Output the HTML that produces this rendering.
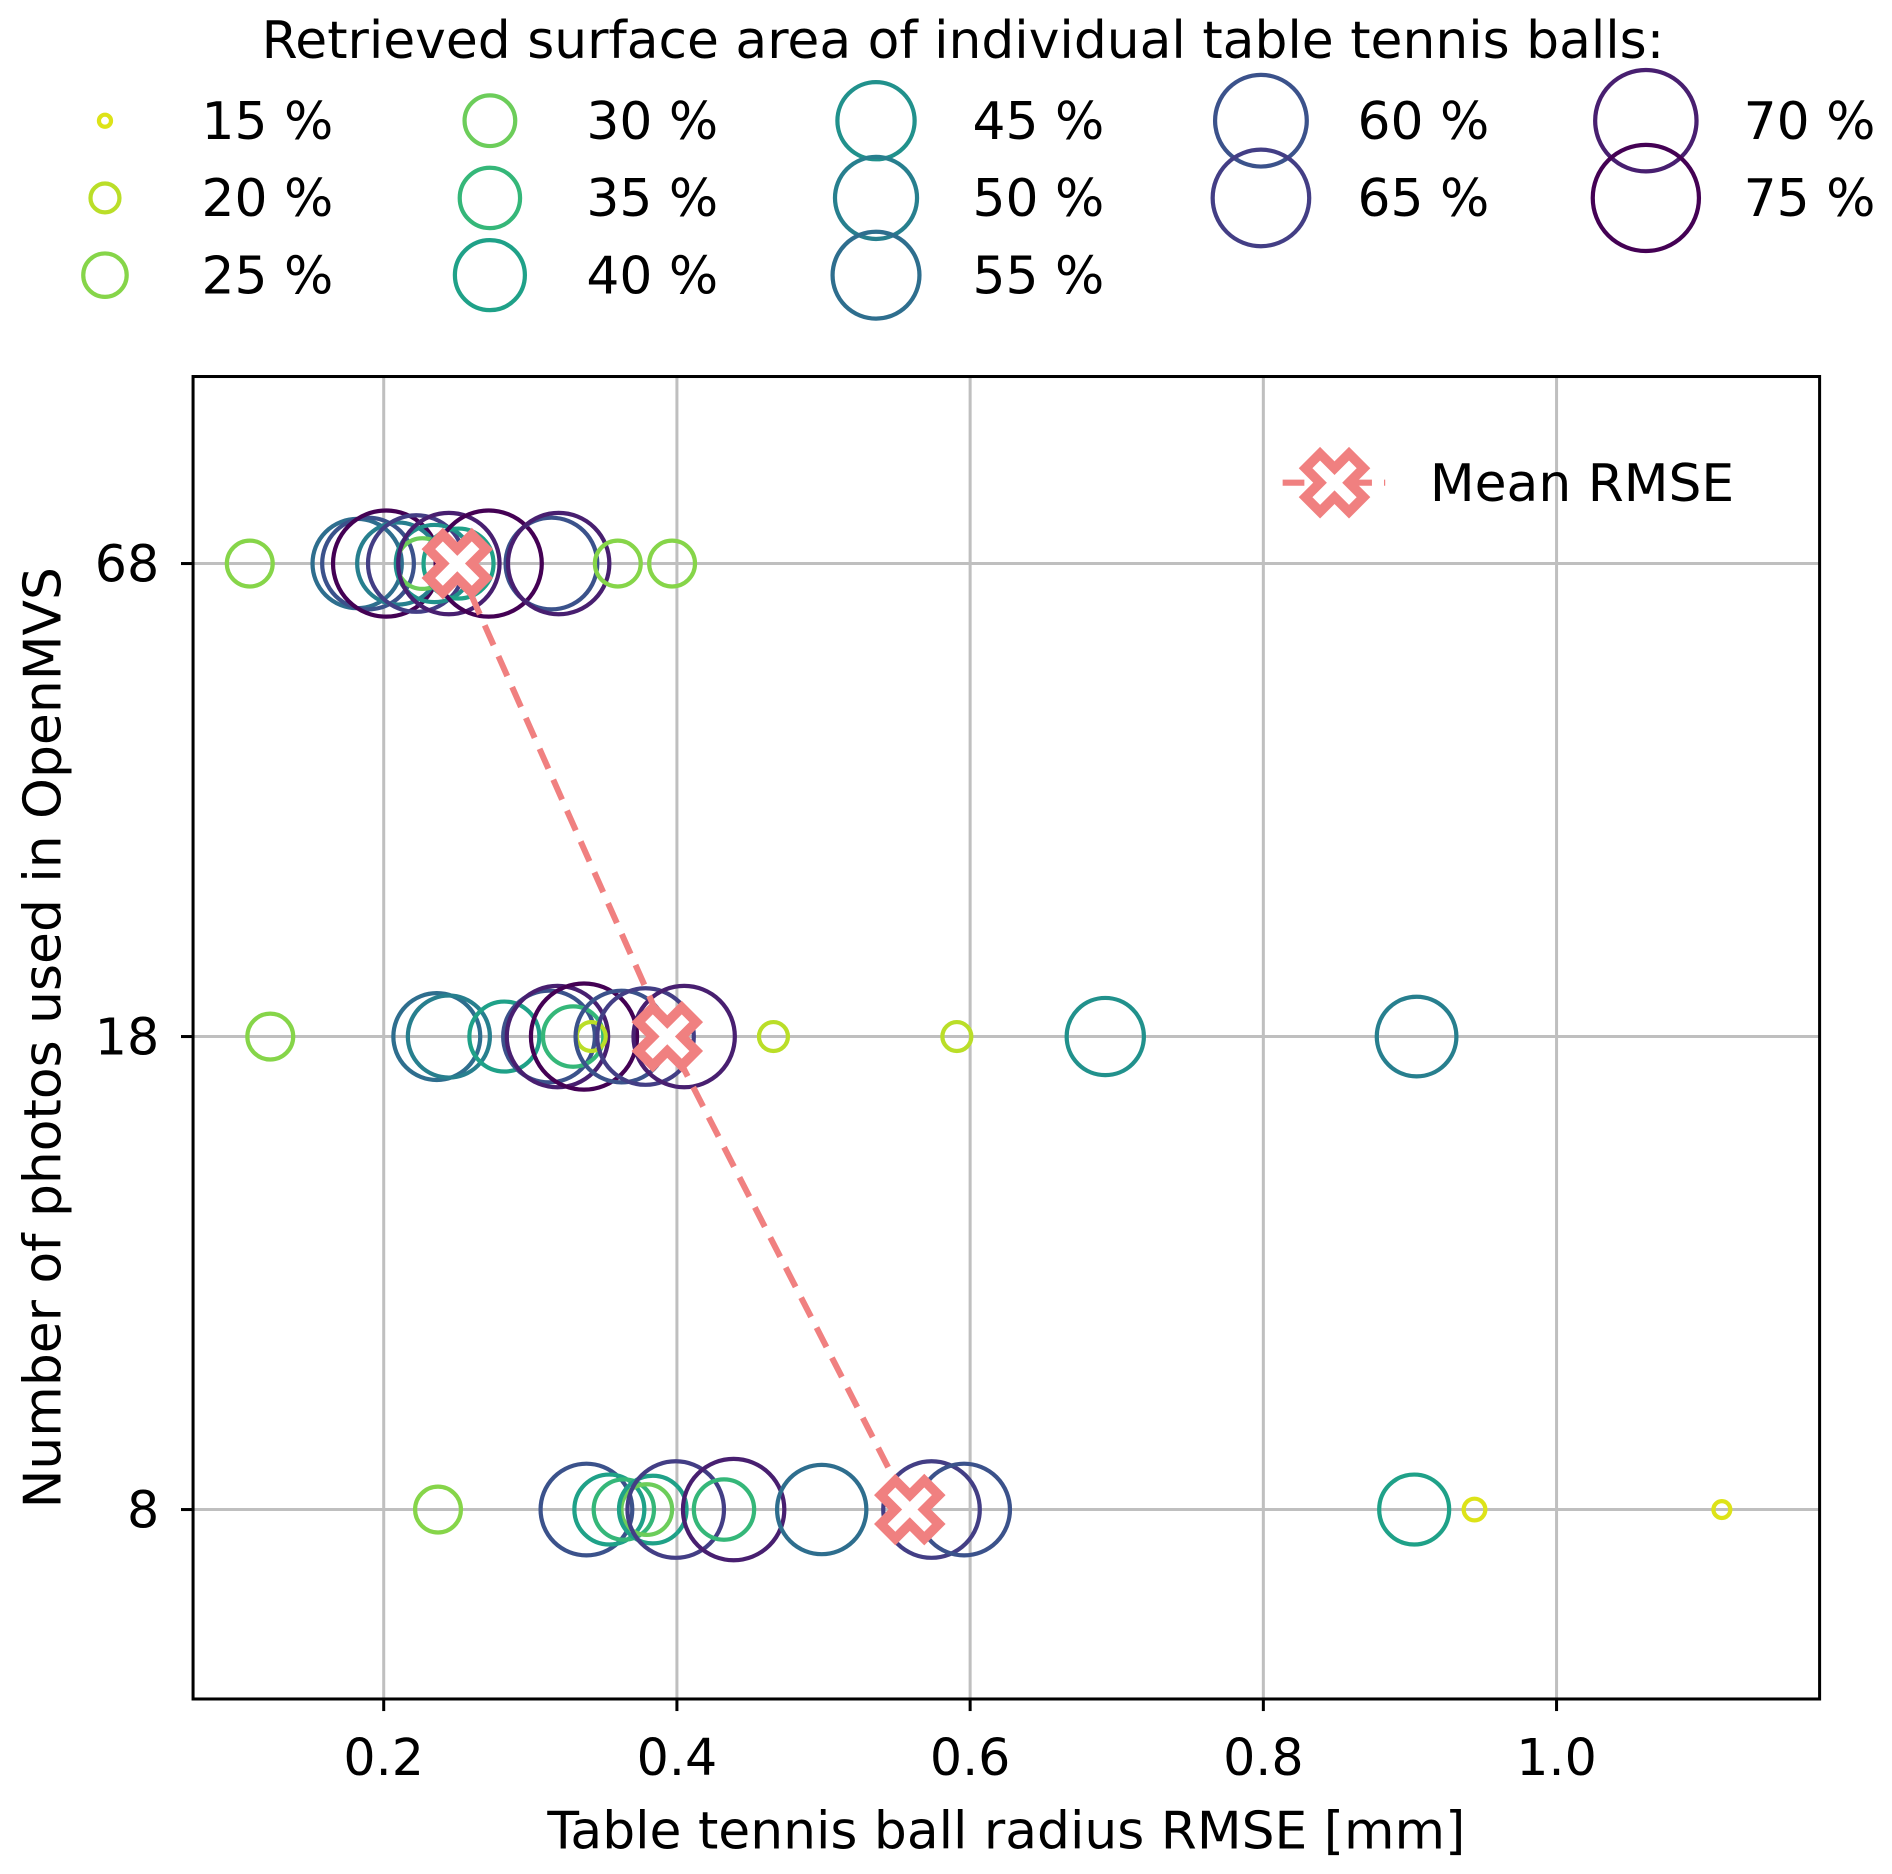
<!DOCTYPE html>
<html><head><meta charset="utf-8"><style>html,body{margin:0;padding:0;background:#fff}svg{display:block}</style></head>
<body>
<svg width="1892" height="1874" viewBox="0 0 1568 1553" xmlns="http://www.w3.org/2000/svg" font-family="'DejaVu Sans','Liberation Sans',sans-serif">
<defs>
<path id="xm" d="M-12,-24 L0,-12 L12,-24 L24,-12 L12,0 L24,12 L12,24 L0,12 L-12,24 L-24,12 L-12,0 L-24,-12 Z" fill="#fff" stroke="#f08080" stroke-width="8" stroke-linejoin="miter"/>
</defs>
<rect width="1568" height="1553" fill="#fff"/>
<text x="798" y="48" font-size="43" text-anchor="middle">Retrieved surface area of individual table tennis balls:</text>
<g fill="none" stroke-width="3.5">
<circle cx="87" cy="100" r="5" stroke="#dde318"/>
<circle cx="87" cy="164" r="12" stroke="#bade28"/>
<circle cx="87" cy="228" r="18" stroke="#86d549"/>
<circle cx="406" cy="100" r="21" stroke="#6ccd5a"/>
<circle cx="406" cy="164" r="25" stroke="#35b779"/>
<circle cx="406" cy="228" r="29" stroke="#1fa188"/>
<circle cx="726" cy="100" r="32" stroke="#21918c"/>
<circle cx="726" cy="164" r="34" stroke="#277f8e"/>
<circle cx="726" cy="228" r="36" stroke="#2e6e8e"/>
<circle cx="1045" cy="100" r="38" stroke="#3b528b"/>
<circle cx="1045" cy="164" r="40" stroke="#433e85"/>
<circle cx="1364" cy="100" r="42" stroke="#481f70"/>
<circle cx="1364" cy="164" r="44" stroke="#440154"/>
</g>
<g font-size="43">
<text x="167" y="115">15 %</text><text x="167" y="179">20 %</text><text x="167" y="243">25 %</text>
<text x="486" y="115">30 %</text><text x="486" y="179">35 %</text><text x="486" y="243">40 %</text>
<text x="806" y="115">45 %</text><text x="806" y="179">50 %</text><text x="806" y="243">55 %</text>
<text x="1125" y="115">60 %</text><text x="1125" y="179">65 %</text>
<text x="1445" y="115">70 %</text><text x="1445" y="179">75 %</text>
</g>
<g stroke="#bfbfbf" stroke-width="2.5">
<line x1="318" y1="312" x2="318" y2="1408"/><line x1="561" y1="312" x2="561" y2="1408"/>
<line x1="804" y1="312" x2="804" y2="1408"/><line x1="1047" y1="312" x2="1047" y2="1408"/>
<line x1="1290" y1="312" x2="1290" y2="1408"/>
<line x1="160" y1="467" x2="1508" y2="467"/><line x1="160" y1="859" x2="1508" y2="859"/>
<line x1="160" y1="1251" x2="1508" y2="1251"/>
</g>
<g fill="none" stroke-width="3.5">
<circle cx="207" cy="467" r="19" stroke="#86d549"/>
<circle cx="296" cy="467" r="37" stroke="#2e6e8e"/>
<circle cx="305" cy="467" r="38" stroke="#3b528b"/>
<circle cx="320" cy="467" r="44" stroke="#440154"/>
<circle cx="330" cy="467" r="34" stroke="#277f8e"/>
<circle cx="345" cy="467" r="40" stroke="#433e85"/>
<circle cx="350" cy="467" r="21" stroke="#6ccd5a"/>
<circle cx="360" cy="467" r="32" stroke="#21918c"/>
<circle cx="372" cy="467" r="42" stroke="#481f70"/>
<circle cx="380" cy="467" r="29" stroke="#1fa188"/>
<circle cx="405" cy="467" r="44" stroke="#440154"/>
<circle cx="457" cy="467" r="38" stroke="#3b528b"/>
<circle cx="463" cy="467" r="42" stroke="#481f70"/>
<circle cx="512" cy="467" r="19" stroke="#86d549"/>
<circle cx="557" cy="467" r="19" stroke="#86d549"/>
<circle cx="224" cy="859" r="19" stroke="#86d549"/>
<circle cx="362" cy="859" r="36" stroke="#2e6e8e"/>
<circle cx="372" cy="859" r="34" stroke="#277f8e"/>
<circle cx="418" cy="859" r="29" stroke="#1fa188"/>
<circle cx="455" cy="859" r="38" stroke="#3b528b"/>
<circle cx="462" cy="859" r="42" stroke="#481f70"/>
<circle cx="475" cy="859" r="25" stroke="#35b779"/>
<circle cx="484" cy="859" r="44" stroke="#440154"/>
<circle cx="490" cy="859" r="12" stroke="#bade28"/>
<circle cx="515" cy="859" r="38" stroke="#3b528b"/>
<circle cx="535" cy="859" r="40" stroke="#433e85"/>
<circle cx="567" cy="859" r="42" stroke="#481f70"/>
<circle cx="641" cy="859" r="12" stroke="#bade28"/>
<circle cx="793" cy="859" r="12" stroke="#bade28"/>
<circle cx="916" cy="859" r="32" stroke="#21918c"/>
<circle cx="1174" cy="859" r="33" stroke="#277f8e"/>
<circle cx="363" cy="1251" r="19" stroke="#86d549"/>
<circle cx="486" cy="1251" r="38" stroke="#3b528b"/>
<circle cx="505" cy="1251" r="29" stroke="#1fa188"/>
<circle cx="517" cy="1251" r="25" stroke="#35b779"/>
<circle cx="536" cy="1251" r="21" stroke="#6ccd5a"/>
<circle cx="541" cy="1251" r="28" stroke="#1fa188"/>
<circle cx="560" cy="1251" r="40" stroke="#433e85"/>
<circle cx="600" cy="1251" r="25" stroke="#35b779"/>
<circle cx="608" cy="1251" r="42" stroke="#481f70"/>
<circle cx="681" cy="1251" r="37" stroke="#2e6e8e"/>
<circle cx="772" cy="1251" r="40" stroke="#433e85"/>
<circle cx="799" cy="1251" r="38" stroke="#3b528b"/>
<circle cx="1172" cy="1251" r="29" stroke="#1fa188"/>
<circle cx="1222" cy="1251" r="9" stroke="#dde318"/>
<circle cx="1427" cy="1251" r="7" stroke="#dde318"/>
</g>
<polyline points="379,467 553,859 754,1251" fill="none" stroke="#f08080" stroke-width="5" stroke-dasharray="18,10"/>
<use href="#xm" x="379" y="467"/>
<use href="#xm" x="553" y="859"/>
<use href="#xm" x="754" y="1251"/>
<rect x="160" y="312" width="1348" height="1096" fill="none" stroke="#000" stroke-width="2.5"/>
<g stroke="#000" stroke-width="2.5">
<line x1="318" y1="1408" x2="318" y2="1418"/><line x1="561" y1="1408" x2="561" y2="1418"/>
<line x1="804" y1="1408" x2="804" y2="1418"/><line x1="1047" y1="1408" x2="1047" y2="1418"/>
<line x1="1290" y1="1408" x2="1290" y2="1418"/>
<line x1="150" y1="467" x2="160" y2="467"/><line x1="150" y1="859" x2="160" y2="859"/>
<line x1="150" y1="1251" x2="160" y2="1251"/>
</g>
<g font-size="42" text-anchor="middle">
<text x="318" y="1471">0.2</text><text x="561" y="1471">0.4</text><text x="804" y="1471">0.6</text>
<text x="1047" y="1471">0.8</text><text x="1290" y="1471">1.0</text>
</g>
<g font-size="42" text-anchor="end">
<text x="132" y="482">68</text><text x="132" y="874">18</text><text x="132" y="1266">8</text>
</g>
<text x="834" y="1532" font-size="43" text-anchor="middle">Table tennis ball radius RMSE [mm]</text>
<text transform="translate(50,860) rotate(-90)" font-size="43" text-anchor="middle">Number of photos used in OpenMVS</text>
<line x1="1063" y1="400" x2="1148" y2="400" stroke="#f08080" stroke-width="5" stroke-dasharray="18,10"/>
<use href="#xm" x="1106" y="400"/>
<text x="1185" y="415" font-size="43">Mean RMSE</text>
</svg>
</body></html>
